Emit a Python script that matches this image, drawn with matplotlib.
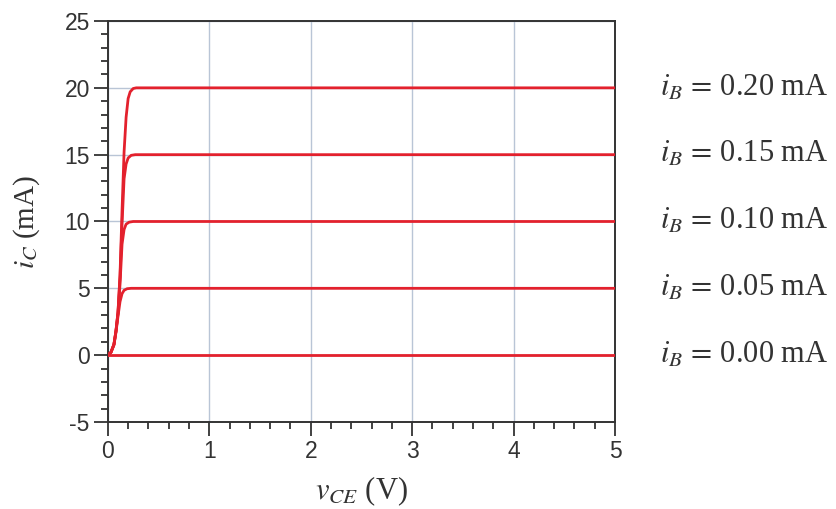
import numpy as np
import matplotlib
matplotlib.use("Agg")
import matplotlib.pyplot as plt
from matplotlib.ticker import MultipleLocator

# values (v_CE in V, i_C in mA)
ib_labels = ["0.20", "0.15", "0.10", "0.05", "0.00"]
ic_levels = [20, 15, 10, 5, 0]

v_020 = [0, 0.03, 0.06, 0.08, 0.10, 0.12, 0.14, 0.16, 0.18, 0.20, 0.22, 0.25, 0.28, 0.32, 5.0]
i_020 = [0, 0.2, 0.8, 1.8, 3.2, 6.0, 10.8, 15.2, 17.8, 19.2, 19.7, 19.95, 20, 20, 20]

v_015 = [0, 0.03, 0.06, 0.08, 0.10, 0.12, 0.14, 0.16, 0.18, 0.20, 0.23, 0.27, 5.0]
i_015 = [0, 0.2, 0.8, 1.8, 3.2, 5.8, 9.8, 13.2, 14.3, 14.75, 14.95, 15, 15]

v_010 = [0, 0.03, 0.06, 0.08, 0.10, 0.12, 0.14, 0.16, 0.18, 0.21, 0.25, 5.0]
i_010 = [0, 0.2, 0.8, 1.8, 3.1, 5.3, 8.3, 9.4, 9.8, 9.95, 10, 10]

v_005 = [0, 0.03, 0.06, 0.08, 0.10, 0.12, 0.14, 0.16, 0.19, 0.23, 5.0]
i_005 = [0, 0.2, 0.75, 1.7, 2.9, 4.0, 4.6, 4.85, 4.97, 5, 5]

v_000 = [0, 5.0]
i_000 = [0, 0]

curves = [(v_020, i_020), (v_015, i_015), (v_010, i_010), (v_005, i_005), (v_000, i_000)]

plt.rcParams['mathtext.fontset'] = 'stix'
plt.rcParams['axes.unicode_minus'] = False
red = '#e3212d'
dark = '#333333'

fig = plt.figure(figsize=(8.36, 5.09), dpi=100)
ax = fig.add_axes([0.129, 0.171, 0.6067, 0.7877])

for v, i in curves:
    ax.plot(v, i, color=red, lw=2.0, zorder=3)

ax.set_xlim(0, 5)
ax.set_ylim(-5, 25)
ax.xaxis.set_major_locator(MultipleLocator(1))
ax.xaxis.set_minor_locator(MultipleLocator(0.2))
ax.yaxis.set_major_locator(MultipleLocator(5))
ax.yaxis.set_minor_locator(MultipleLocator(1))

ax.grid(True, which='major', color='#b9c5d6', lw=1.0, zorder=0)
ax.tick_params(which='major', direction='out', length=10, width=1.3, color=dark,
               labelsize=16.5, labelcolor=dark, pad=3)
ax.tick_params(which='minor', direction='out', length=5, width=1.3, color=dark)
for s in ax.spines.values():
    s.set_color(dark)
    s.set_linewidth(1.4)
for lab in ax.get_xticklabels() + ax.get_yticklabels():
    lab.set_family('Liberation Sans')

ax.set_xlabel(r'$v_{CE}$ (V)', family='Liberation Serif', fontsize=22, color=dark, labelpad=8)
ax.set_ylabel(r'$i_C$ (mA)', family='Liberation Serif', fontsize=21, color=dark, labelpad=16)

for lab, lvl in zip(ib_labels, ic_levels):
    ax.text(5.44, lvl, r'$i_B\,=\,$' + lab + ' mA', family='Liberation Serif', fontsize=22,
            color=dark, va='center', ha='left', clip_on=False)

fig.savefig('out.png', dpi=100)
